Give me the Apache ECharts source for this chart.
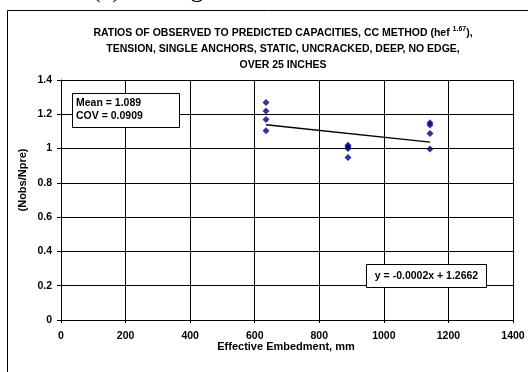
<!DOCTYPE html>
<html>
<head>
<meta charset="utf-8">
<style>
  html, body { margin: 0; padding: 0; background: #fff; }
  #chart { width: 528px; height: 372px; }
</style>
<script src="https://cdn.jsdelivr.net/npm/echarts@6/dist/echarts.min.js"></script>
</head>
<body>
<div id="chart"></div>
<script>
// Effective embedment depths (mm) and observed/predicted capacity ratios
const embedment = [635, 635, 635, 635, 889, 889, 889, 889, 1143, 1143, 1143, 1143];
const ratios = [1.269, 1.219, 1.170, 1.104, 1.020, 1.010, 1.001, 0.948, 1.150, 1.137, 1.088, 0.997];

// Linear trend line as printed on the chart
const trendSlope = -0.0002;
const trendIntercept = 1.2662;
const trendRange = [635, 1143];

const xTicks = [0, 200, 400, 600, 800, 1000, 1200, 1400];
const yTicks = [0, 0.2, 0.4, 0.6, 0.8, 1, 1.2, 1.4];

const FONT = '"Liberation Sans", Arial, sans-serif';
const TXT = 10.5;

const points = embedment.map((x, i) => [x, ratios[i]]);
const trendPoints = trendRange.map(x => [x, trendSlope * x + trendIntercept]);

const chart = echarts.init(document.getElementById('chart'), null, { renderer: 'canvas' });

chart.setOption({
  animation: false,
  backgroundColor: '#ffffff',
  grid: { left: 61, top: 80, right: 15, bottom: 52, show: false },
  xAxis: {
    type: 'value',
    min: xTicks[0],
    max: xTicks[xTicks.length - 1],
    interval: 200,
    axisLine: { show: true, lineStyle: { color: '#000', width: 1 } },
    axisTick: { show: true, length: 3, inside: false, lineStyle: { color: '#000' } },
    axisLabel: { fontFamily: FONT, fontSize: TXT, fontWeight: 'bold', color: '#000', margin: 11,
                 formatter: v => String(v) },
    splitLine: { show: true, lineStyle: { color: '#000', width: 1 } }
  },
  yAxis: {
    type: 'value',
    min: yTicks[0],
    max: yTicks[yTicks.length - 1],
    interval: 0.2,
    axisLine: { show: true, lineStyle: { color: '#000', width: 1 } },
    axisTick: { show: true, length: 4, inside: false, lineStyle: { color: '#000' } },
    axisLabel: {
      fontFamily: FONT, fontSize: TXT, fontWeight: 'bold', color: '#000', margin: 9,
      formatter: v => String(+v.toFixed(1))
    },
    splitLine: { show: true, lineStyle: { color: '#000', width: 1 } }
  },
  series: [
    {
      type: 'line',
      data: trendPoints,
      symbol: 'none',
      lineStyle: { color: '#000', width: 1.5 },
      z: 2
    },
    {
      type: 'scatter',
      data: points,
      symbol: 'diamond',
      symbolSize: 7,
      itemStyle: { color: '#000080' },
      z: 3
    }
  ],
  graphic: [
    // outer chart frame
    { type: 'rect', shape: { x: 7.5, y: 10.5, width: 600, height: 400 },
      style: { fill: 'none', stroke: '#000', lineWidth: 1 }, z: 0, silent: true },
    // caption text above the frame
    { type: 'text', x: 92, y: -10,
      style: { text: '(c) Testing', font: '26px "Liberation Serif", "Times New Roman", serif',
               fill: '#000', textVerticalAlign: 'middle' }, z: 10 },
    // title
    { type: 'text', x: 283, y: 33,
      style: {
        text: 'RATIOS OF OBSERVED TO PREDICTED CAPACITIES, CC METHOD (hef {sup|1.67}),',
        fontFamily: FONT, fontSize: TXT, fontWeight: 'bold', fill: '#000',
        align: 'center', verticalAlign: 'middle',
        rich: { sup: { fontFamily: FONT, fontSize: 7, fontWeight: 'bold', fill: '#000', padding: [0, 0, 7, 0] } }
      }, z: 10 },
    { type: 'text', x: 283, y: 49,
      style: { text: 'TENSION, SINGLE ANCHORS, STATIC, UNCRACKED, DEEP, NO EDGE,',
               fontFamily: FONT, fontSize: TXT, fontWeight: 'bold', fill: '#000',
               align: 'center', verticalAlign: 'middle' }, z: 10 },
    { type: 'text', x: 283, y: 65,
      style: { text: 'OVER 25 INCHES',
               fontFamily: FONT, fontSize: TXT, fontWeight: 'bold', fill: '#000',
               align: 'center', verticalAlign: 'middle' }, z: 10 },
    // axis titles
    { type: 'text', x: 23, y: 180, rotation: Math.PI / 2,
      style: { text: '(Nobs/Npre)', fontFamily: FONT, fontSize: 11, fontWeight: 'bold', fill: '#000',
               align: 'center', verticalAlign: 'middle' }, z: 10 },
    { type: 'text', x: 286, y: 347,
      style: { text: 'Effective Embedment, mm', fontFamily: FONT, fontSize: 11, fontWeight: 'bold', fill: '#000',
               align: 'center', verticalAlign: 'middle' }, z: 10 },
    // statistics box
    { type: 'rect', shape: { x: 72.5, y: 93.5, width: 107, height: 34 },
      style: { fill: '#fff', stroke: '#000', lineWidth: 1 }, z: 20 },
    { type: 'text', x: 76, y: 103,
      style: { text: 'Mean = 1.089', fontFamily: FONT, fontSize: TXT, fontWeight: 'bold', fill: '#000',
               verticalAlign: 'middle' }, z: 21 },
    { type: 'text', x: 76, y: 116,
      style: { text: 'COV = 0.0909', fontFamily: FONT, fontSize: TXT, fontWeight: 'bold', fill: '#000',
               verticalAlign: 'middle' }, z: 21 },
    // trend equation box
    { type: 'rect', shape: { x: 366.5, y: 264.5, width: 120, height: 23 },
      style: { fill: '#fff', stroke: '#000', lineWidth: 1 }, z: 20 },
    { type: 'text', x: 426.5, y: 276,
      style: { text: 'y = -0.0002x + 1.2662', fontFamily: FONT, fontSize: TXT, fontWeight: 'bold', fill: '#000',
               align: 'center', verticalAlign: 'middle' }, z: 21 }
  ]
});
</script>
</body>
</html>
